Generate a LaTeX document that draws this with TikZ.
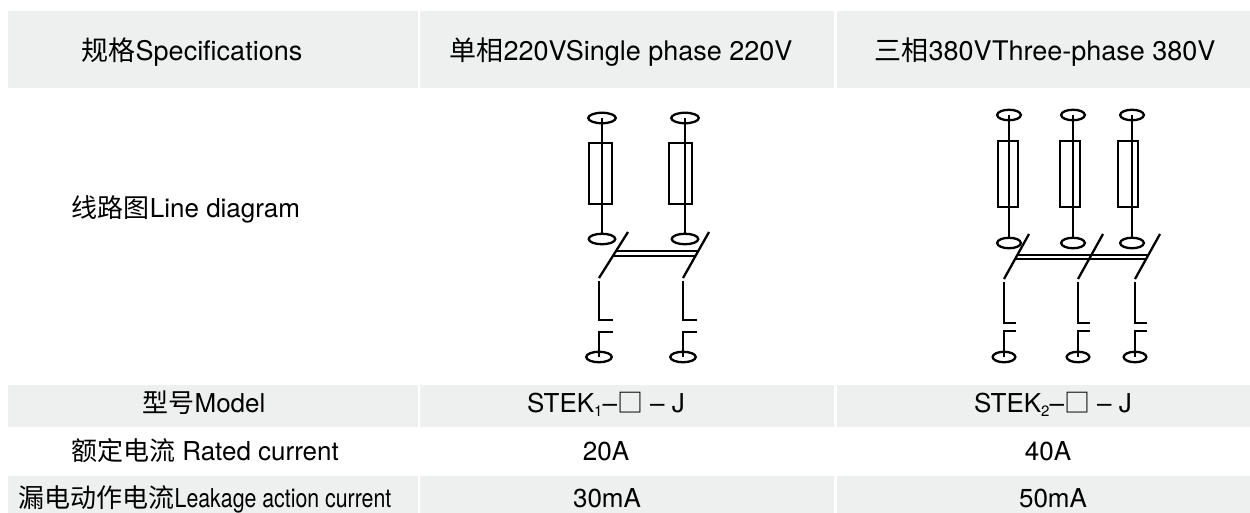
\documentclass[tikz,border=0pt]{standalone}
\usepackage{fontspec}
\setmainfont{TeX Gyre Heros}
\newfontfamily\cjk{Noto Sans CJK SC}
\newfontfamily\narrowfont[FakeStretch=0.82]{TeX Gyre Heros}
\usetikzlibrary{shapes.geometric,calc}
\definecolor{cellgray}{RGB}{238,239,239}
\tikzset{
  cell/.style={fill=cellgray, draw=none},
  txt/.style={anchor=base, inner sep=0pt, font=\fontsize{26}{30}\selectfont},
  htxt/.style={anchor=base, inner sep=0pt, font=\fontsize{27}{32}\selectfont},
  term/.style={draw, ellipse, line width=2.3pt, inner sep=0pt, minimum height=10.5pt},
  fuse/.style={draw, rectangle, line width=2pt, inner sep=0pt},
  wire/.style={line width=2.3pt},
  bar/.style={line width=2pt},
}
\begin{document}
\begin{tikzpicture}[x=1pt,y=-1pt]
\useasboundingbox (0,0) rectangle (1250,513);

% Table cells
\fill[cell] (8,11) rectangle (418,88);
\fill[cell] (420,11) rectangle (834,88);
\fill[cell] (837,11) rectangle (1250,88);
\fill[cell] (8,385) rectangle (418,427);
\fill[cell] (420,385) rectangle (834,427);
\fill[cell] (837,385) rectangle (1250,427);
\fill[cell] (8,476) rectangle (418,513);
\fill[cell] (420,476) rectangle (834,513);
\fill[cell] (837,476) rectangle (1250,513);

% Header row
\node[htxt] (hspec) at (192,61) {{\cjk 规格}Specifications};
\node[htxt] (hsingle) at (621,61) {{\cjk 单相}220VSingle phase 220V};
\node[htxt] (hthree) at (1045,61) {{\cjk 三相}380VThree-phase 380V};

% Line diagram - single phase
\node[txt] (ldiag) at (186,218) {{\cjk 线路图}Line diagram};
\foreach \n/\ux/\fx/\lx/\dx in {a/602/600.5/599/628, b/685/680.5/683/709} {
  \node[term, minimum width=27.5pt] (top\n) at (\ux,118) {};
  \node[fuse, minimum width=22.3pt, minimum height=61.3pt] (fuse\n) at (\fx,173.5) {};
  \node[term, minimum width=26.5pt] (mid\n) at (\ux,239) {};
  \node[term, minimum width=25.5pt] (bot\n) at (\lx,357) {};
  \draw[wire] (top\n.center) -- (mid\n.north);
  \coordinate (dt\n) at (\dx,232);
  \coordinate (db\n) at (\lx,278);
  \draw[wire] (dt\n) -- (db\n);
  \coordinate (lt\n) at (\lx,281);
  \draw[wire] (lt\n) -- ++(0,39) -- ++(14,0);
  \coordinate (gt\n) at (\lx+14,332);
  \draw[wire] (gt\n) -- ++(-14,0) -- (bot\n.center);
}
\draw[bar] ($(dta)!0.41!(dba)$) -- ($(dtb)!0.41!(dbb)$);
\draw[bar] ($(dta)!0.53!(dba)$) -- ($(dtb)!0.53!(dbb)$);

% Line diagram - three phase
\foreach \n/\ux/\fx/\lx/\dx in {c/1009/1008/1004/1029, d/1073/1070/1078/1103, e/1132/1128/1135/1160} {
  \node[term, minimum width=23.7pt] (top\n) at (\ux,115) {};
  \node[fuse, minimum width=20.7pt, minimum height=65.7pt] (fuse\n) at (\fx,174) {};
  \node[term, minimum width=23.7pt] (mid\n) at (\ux,243) {};
  \node[term, minimum width=22.7pt] (bot\n) at (\lx,357) {};
  \draw[wire] (top\n.center) -- (mid\n.north);
  \coordinate (dt\n) at (\dx,234);
  \coordinate (db\n) at (\lx,279);
  \draw[wire] (dt\n) -- (db\n);
  \coordinate (lt\n) at (\lx,282);
  \draw[wire] (lt\n) -- ++(0,41) -- ++(12,0);
  \coordinate (gt\n) at (\lx+12,331);
  \draw[wire] (gt\n) -- ++(-12,0) -- (bot\n.center);
}
\draw[bar] ($(dtc)!0.46!(dbc)$) -- ($(dte)!0.46!(dbe)$);
\draw[bar] ($(dtc)!0.56!(dbc)$) -- ($(dte)!0.56!(dbe)$);

% Model row
\node[txt] (model) at (204,412) {{\cjk 型号}Model};
\node[txt] (modela) at (606,412) {STEK\raisebox{-4pt}{\fontsize{15}{15}\selectfont 1}–{\cjk □} – J};
\node[txt] (modelb) at (1053,412) {STEK\raisebox{-4pt}{\fontsize{15}{15}\selectfont 2}–{\cjk □} – J};

% Rated current row
\node[txt] (rated) at (205,460) {{\cjk 额定电流} Rated current};
\node[txt] (rateda) at (606,460) {20A};
\node[txt] (ratedb) at (1048,460) {40A};

% Leakage current row
\node[txt] (leak) at (205,507.5) {{\cjk 漏电动作电流}{\narrowfont Leakage action current}};
\node[txt] (leaka) at (607,507.5) {30mA};
\node[txt] (leakb) at (1053,507.5) {50mA};
\end{tikzpicture}
\end{document}
